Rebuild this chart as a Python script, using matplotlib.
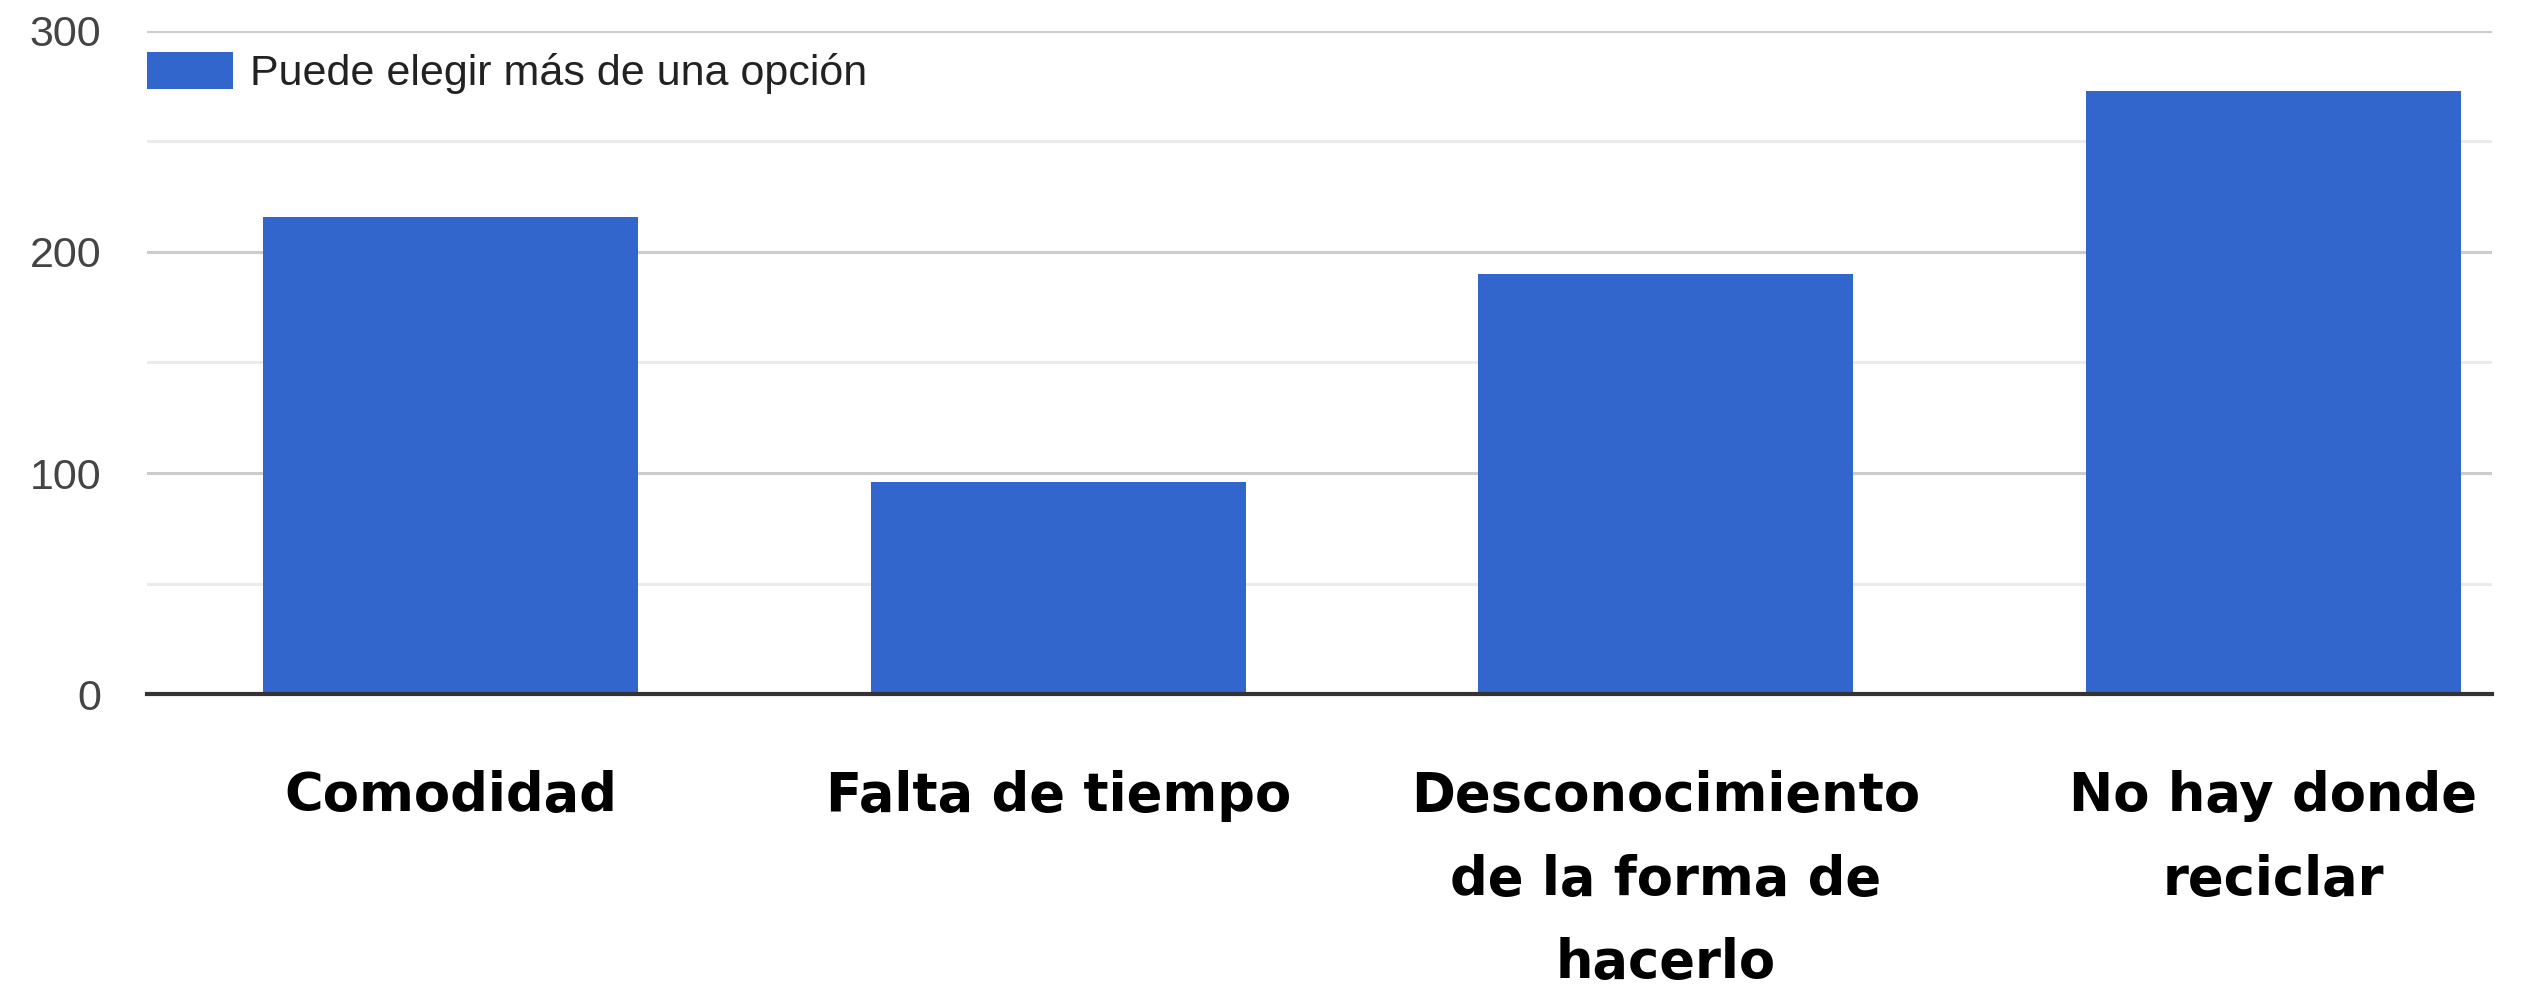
import matplotlib
matplotlib.use("Agg")
import matplotlib.pyplot as plt
from matplotlib.ticker import MultipleLocator

# survey answers (multiple choice allowed)
categories = ["Comodidad", "Falta de tiempo",
              "Desconocimiento\nde la forma de\nhacerlo", "No hay donde\nreciclar"]
counts = [216, 96, 190, 273]
series_label = "Puede elegir más de una opción"
y_ticks = [0, 100, 200, 300]

BLUE = "#3366cc"
SMALL_FONT = ["Liberation Sans Narrow", "Liberation Sans", "DejaVu Sans"]
LABEL_FONT = ["DejaVu Sans"]

fig = plt.figure(figsize=(25.32, 9.85), dpi=100)
ax = fig.add_axes([0.05806, 0.29543, 0.92614, 0.6731])

x = list(range(len(categories)))
ax.bar(x, counts, width=0.617, color=BLUE, label=series_label, zorder=3)

ax.set_xlim(-0.5, 3.36)
ax.set_ylim(0, 300)

# major and minor grid lines
ax.yaxis.set_major_locator(MultipleLocator(100))
ax.yaxis.set_minor_locator(MultipleLocator(50))
ax.grid(axis="y", which="major", color="#cccccc", lw=2.2, zorder=1)
ax.grid(axis="y", which="minor", color="#ebebeb", lw=2.2, zorder=1)
ax.axhline(0, color="#333333", lw=3, zorder=4, clip_on=False)

for side in ax.spines.values():
    side.set_visible(False)

ax.set_yticks(y_ticks)
ax.set_yticklabels([str(v) for v in y_ticks], family=SMALL_FONT,
                   fontsize=31, color="#444444")
ax.tick_params(axis="y", which="both", length=0, pad=33)

ax.set_xticks(x)
ax.set_xticklabels(categories, family=LABEL_FONT, fontweight="bold",
                   fontsize=38, color="black", linespacing=1.76, ha="center")
ax.tick_params(axis="x", length=0, pad=55)

leg = ax.legend(loc="upper left", bbox_to_anchor=(147 / 2532, 1 - 52 / 985),
                bbox_transform=fig.transFigure, frameon=False,
                borderpad=0, borderaxespad=0, handlelength=2.0,
                handleheight=0.95, handletextpad=0.4,
                prop={"family": SMALL_FONT, "size": 31})
for t in leg.get_texts():
    t.set_color("#222222")

fig.savefig("out.png", dpi=100, facecolor="white")
